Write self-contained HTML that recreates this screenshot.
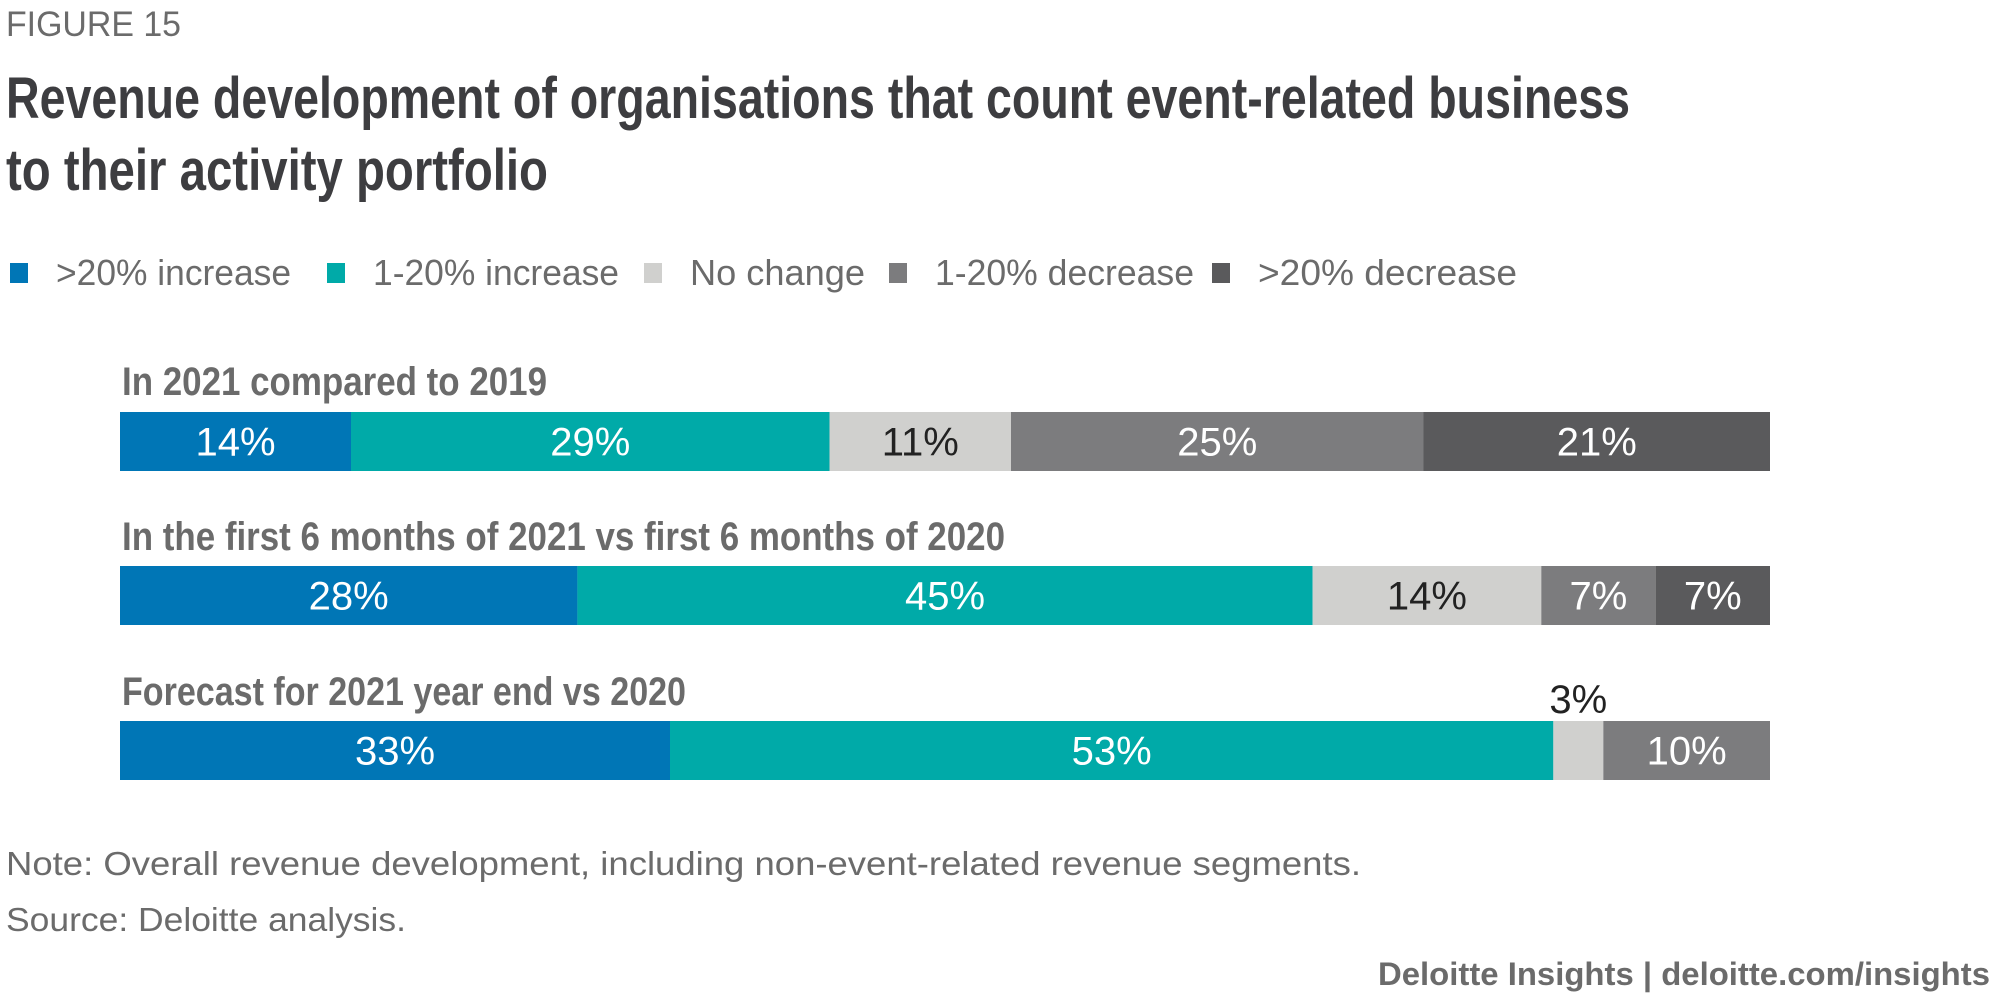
<!DOCTYPE html>
<html><head><meta charset="utf-8"><style>
html,body{margin:0;padding:0;background:#fff;width:2000px;height:1000px;overflow:hidden}
text{font-family:"Liberation Sans",sans-serif}
</style></head><body>
<svg id="chart" width="2000" height="1000" viewBox="0 0 2000 1000" xmlns="http://www.w3.org/2000/svg">
<text x="6" y="36" font-size="35" fill="#6b6b6b" textLength="175" lengthAdjust="spacingAndGlyphs">FIGURE 15</text>
<text x="6" y="118" font-size="58" font-weight="bold" fill="#3d3d40" textLength="1624" lengthAdjust="spacingAndGlyphs">Revenue development of organisations that count event-related business</text>
<text x="6" y="190" font-size="58" font-weight="bold" fill="#3d3d40" textLength="542" lengthAdjust="spacingAndGlyphs">to their activity portfolio</text>
<g id="legend"></g>
<g id="bars"></g>
<text x="6" y="875" font-size="33" fill="#6b6b6b" textLength="1355" lengthAdjust="spacingAndGlyphs">Note: Overall revenue development, including non-event-related revenue segments.</text>
<text x="6" y="931" font-size="33" fill="#6b6b6b" textLength="400" lengthAdjust="spacingAndGlyphs">Source: Deloitte analysis.</text>
<text x="1378" y="985" font-size="32" font-weight="bold" fill="#6b6b6b" textLength="612" lengthAdjust="spacingAndGlyphs">Deloitte Insights | deloitte.com/insights</text>
</svg>
<script>
const categories = ["In 2021 compared to 2019","In the first 6 months of 2021 vs first 6 months of 2020","Forecast for 2021 year end vs 2020"];
const seriesNames = [">20% increase","1-20% increase","No change","1-20% decrease",">20% decrease"];
const s1 = [14, 28, 33];
const s2 = [29, 45, 53];
const s3 = [11, 14, 3];
const s4 = [25, 7, 10];
const s5 = [21, 7, 0];
const series = [s1,s2,s3,s4,s5];
const colors = ["#0076b6","#00aaa8","#d0d0ce","#7c7c7e","#5a5a5c"];
const textColors = ["#fff","#fff","#222","#fff","#fff"];
const NS = "http://www.w3.org/2000/svg";
const x0 = 120, x1 = 1770;
const barY = [412, 566, 721], barH = 59;
const labelY = [395, 550, 705];
const labelW = [425, 883, 564];
const legendX = [10, 327, 644, 889, 1212];
const legendW = [235, 246, 175, 259, 259];
const legend = document.getElementById('legend');
seriesNames.forEach((n,i)=>{
  const r = document.createElementNS(NS,'rect');
  r.setAttribute('x',legendX[i]); r.setAttribute('y',263); r.setAttribute('width',18); r.setAttribute('height',20);
  r.setAttribute('fill',colors[i]);
  
  
  legend.appendChild(r);
  const t = document.createElementNS(NS,'text');
  t.setAttribute('x',legendX[i]+46); t.setAttribute('y',285); t.setAttribute('font-size',36); t.setAttribute('fill','#6b6b6b');
  t.setAttribute('textLength',legendW[i]); t.setAttribute('lengthAdjust','spacingAndGlyphs');
  t.textContent = n;
  
  
  legend.appendChild(t);
});
const bars = document.getElementById('bars');
categories.forEach((c,ri)=>{
  const lab = document.createElementNS(NS,'text');
  lab.setAttribute('x',122); lab.setAttribute('y',labelY[ri]); lab.setAttribute('font-size',40); lab.setAttribute('font-weight','bold'); lab.setAttribute('fill','#6b6b6b');
  lab.setAttribute('textLength',labelW[ri]); lab.setAttribute('lengthAdjust','spacingAndGlyphs');
  lab.textContent = c;
  
  
  bars.appendChild(lab);
  const total = series.reduce((a,s)=>a+s[ri],0);
  const sc = v => v/total*(x1-x0);
  let x = x0;
  series.forEach((s,si)=>{
    const v = s[ri]; if(!v) return;
    const w = sc(v);
    const r = document.createElementNS(NS,'rect');
    r.setAttribute('x',x); r.setAttribute('y',barY[ri]); r.setAttribute('width',w); r.setAttribute('height',barH);
    r.setAttribute('fill',colors[si]);
    
    
    bars.appendChild(r);
    const t = document.createElementNS(NS,'text');
    const small = w < 60;
    t.setAttribute('x',x+w/2);
    t.setAttribute('y', small ? barY[ri]-8 : barY[ri]+barH/2+14);
    t.setAttribute('text-anchor','middle'); t.setAttribute('font-size',40);
    t.setAttribute('fill', small ? '#222' : textColors[si]);
    t.textContent = v + '%';
    
    
    bars.appendChild(t);
    x += w;
  });
});
</script>
</body></html>
